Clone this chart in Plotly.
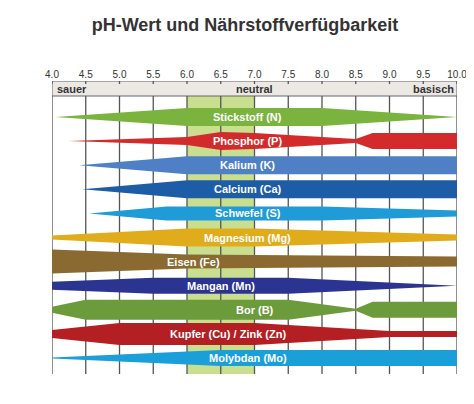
import plotly.graph_objects as go

names = ["Stickstoff (N)", "Phosphor (P)", "Kalium (K)", "Calcium (Ca)", "Schwefel (S)",
         "Magnesium (Mg)", "Eisen (Fe)", "Mangan (Mn)", "Bor (B)", "Kupfer (Cu) / Zink (Zn)", "Molybdan (Mo)"]
colors = ["#7ab33e", "#d32a2b", "#4f80c6", "#1d5ca6", "#1f9bd7", "#e1ac1c", "#8a6a30",
          "#2b3591", "#6b9b3b", "#b41f23", "#1b9fd9"]
# availability profiles: pH points and half-widths (px)
ph_pts = [
    [4.05, 6.0, 8.0, 10.0],
    [4.25, 6.0, 6.5, 7.0, 8.5, 8.75, 10.0],
    [4.4, 6.0, 10.0],
    [4.45, 6.0, 10.0],
    [4.55, 5.7, 8.0, 10.0],
    [4.0, 6.0, 7.0, 8.0, 10.0],
    [4.0, 6.0, 10.0],
    [4.0, 5.5, 7.5, 10.0],
    [4.0, 4.5, 7.5, 8.5, 8.75, 10.0],
    [4.0, 5.0, 7.0, 9.0, 10.0],
    [4.0, 6.5, 10.0],
]
half_w = [
    [0, 9, 9, 0],
    [0, 4, 9, 8, 2, 8, 8],
    [0, 9, 9],
    [0, 9, 9],
    [0, 7, 7, 3],
    [2, 9, 9, 7, 3],
    [12, 7, 5],
    [4, 8, 8, 0],
    [3, 10, 10, 1, 8, 8],
    [4, 11, 11, 3, 3],
    [0.5, 8, 8],
]
label_ph = [6.9, 6.9, 6.9, 6.9, 6.9, 6.9, 6.1, 6.5, 7.0, 6.6, 6.9]
tick_vals = [4.0, 4.5, 5.0, 5.5, 6.0, 6.5, 7.0, 7.5, 8.0, 8.5, 9.0, 9.5, 10.0]

H = 293
HEAD = 15
row0, step = 36, 24.1
FONT = "Arial, Liberation Sans"

fig = go.Figure()
shapes = [
    dict(type="rect", x0=6.0, x1=7.0, y0=HEAD, y1=H, fillcolor="#c9de8e", line_width=0, layer="below"),
    dict(type="rect", x0=4.0, x1=10.0, y0=0, y1=HEAD, fillcolor="#ece9e5", line=dict(color="#666", width=1), layer="below"),
]
for t in tick_vals:
    shapes.append(dict(type="line", x0=t, x1=t, y0=HEAD, y1=H, line=dict(color="#555", width=1.3), layer="below"))
    shapes.append(dict(type="line", x0=t, x1=t, y0=0, y1=3, line=dict(color="#555", width=1.3)))

for i, n in enumerate(names):
    c = row0 + i * step
    xs = ph_pts[i] + ph_pts[i][::-1]
    ys = [c - w for w in half_w[i]] + [c + w for w in half_w[i][::-1]]
    fig.add_trace(go.Scatter(x=xs, y=ys, fill="toself", fillcolor=colors[i], mode="lines",
                             line=dict(width=0, color=colors[i]), hoverinfo="skip", showlegend=False))
    fig.add_annotation(x=label_ph[i], y=c, text="<b>" + n + "</b>", showarrow=False,
                       font=dict(family=FONT, size=11, color="white"))

ann = [
    dict(x=4.05, y=HEAD/2, text="<b>sauer</b>", xanchor="left"),
    dict(x=7.0, y=HEAD/2, text="<b>neutral</b>"),
    dict(x=9.98, y=HEAD/2, text="<b>basisch</b>", xanchor="right"),
]
for a in ann:
    fig.add_annotation(showarrow=False, font=dict(family=FONT, size=11, color="#333"), **a)
fig.add_annotation(x=6.5, y=H + 16, text="<b>optimaler pH-Wert</b>", showarrow=False,
                   font=dict(family=FONT, size=11, color="#333"))
fig.add_annotation(x=3.93, y=-12, text="pH", showarrow=False, xanchor="right",
                   font=dict(family=FONT, size=10, color="#333"))

fig.update_layout(
    width=474, height=404, margin=dict(l=44, r=25, t=73, b=38, autoexpand=False),
    paper_bgcolor="white", plot_bgcolor="white", shapes=shapes,
    title=dict(text="<b>pH-Wert und Nährstoffverfügbarkeit</b>", x=0.5, xanchor="center", y=0.975,
               font=dict(family=FONT, size=18, color="#333")),
    xaxis=dict(range=[4.0, 10.0], side="top", tickvals=tick_vals, ticktext=[f"{t:.1f}" for t in tick_vals],
               automargin=False, showgrid=False, zeroline=False, ticks="",
               tickfont=dict(family=FONT, size=10, color="#333")),
    yaxis=dict(range=[H, 0], visible=False, showgrid=False, zeroline=False, automargin=False),
)
fig.write_html("out.html")
